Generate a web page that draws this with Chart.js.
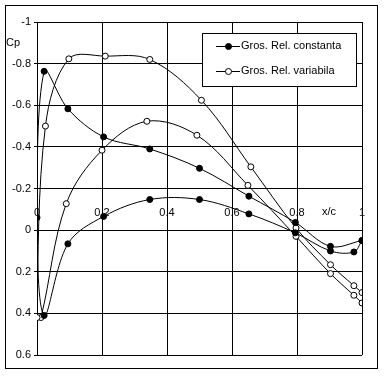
<!doctype html>
<html lang="en">
<head>
<meta charset="utf-8">
<title>Cp distribution</title>
<script src="https://cdn.jsdelivr.net/npm/chart.js"></script>
<style>
  html,body{margin:0;padding:0;background:#fff;}
  #wrap{width:386px;height:376px;}
</style>
</head>
<body>
<div id="wrap"><canvas id="chart" width="386" height="376"></canvas></div>
<script>
/* ─── data (ordered round the profile: lower TE -> LE -> upper TE) ─── */
const X_CONST  = [1, 0.975, 0.903, 0.795, 0.652, 0.5, 0.347, 0.205, 0.095, 0.022, 0, 0.022, 0.095, 0.205, 0.347, 0.5, 0.652, 0.795, 0.903, 1];
const CP_CONST = [0.05, 0.105, 0.10, 0.013, -0.078, -0.147, -0.147, -0.066, 0.066, 0.41, -0.06, -0.763, -0.583, -0.448, -0.39, -0.297, -0.163, -0.037, 0.078, 0.05];

const X_VAR  = [1, 0.975, 0.903, 0.797, 0.649, 0.492, 0.338, 0.2, 0.09, 0.012, 0, 0.026, 0.098, 0.21, 0.347, 0.506, 0.658, 0.797, 0.903, 0.975, 1];
const CP_VAR = [0.35, 0.313, 0.209, 0.03, -0.215, -0.456, -0.523, -0.384, -0.127, 0.42, 0.42, -0.50, -0.823, -0.836, -0.82, -0.624, -0.304, -0.01, 0.166, 0.267, 0.30];

const SERIES_NAMES = ['Gros. Rel. constanta', 'Gros. Rel. variabila'];
const X_TITLE = 'x/c';
const Y_TITLE = 'Cp';

const FONT = "'Liberation Sans', Arial, sans-serif";
const pts = (xs, ys) => xs.map((x, i) => ({x, y: ys[i]}));
const fmt = v => String(Math.round(v * 10) / 10);

/* outer frame, axis titles, boxed legend */
const decorPlugin = {
  id: 'decor',
  beforeDraw({ctx}) {
    ctx.save();
    ctx.fillStyle = '#fff';
    ctx.fillRect(0, 0, 386, 376);
    ctx.strokeStyle = '#000';
    ctx.lineWidth = 1;
    ctx.strokeRect(5.5, 5.5, 372, 363);
    ctx.restore();
  },
  afterDraw(chart) {
    const {ctx} = chart;
    ctx.save();
    ctx.font = '11px ' + FONT;
    ctx.fillStyle = '#000';
    ctx.textBaseline = 'middle';
    ctx.textAlign = 'left';
    ctx.fillText(Y_TITLE, 6, 43);
    ctx.fillText(X_TITLE, 322, 212);

    // legend
    ctx.fillStyle = '#fff';
    ctx.fillRect(202, 33, 154, 53);
    ctx.strokeStyle = '#000';
    ctx.strokeRect(202.5, 33.5, 154, 53);
    chart.data.datasets.forEach((ds, i) => {
      const y = 46 + i * 25;
      ctx.beginPath();
      ctx.moveTo(216, y + 0.5); ctx.lineTo(240, y + 0.5);
      ctx.stroke();
      ctx.beginPath();
      ctx.arc(228.5, y + 0.5, 3, 0, Math.PI * 2);
      ctx.fillStyle = ds.pointBackgroundColor;
      ctx.fill();
      ctx.stroke();
      ctx.fillStyle = '#000';
      ctx.fillText(ds.label, 241, y);
    });
    ctx.restore();
  }
};

Chart.defaults.font.family = FONT;
Chart.defaults.font.size = 11;
Chart.defaults.color = '#000';

new Chart(document.getElementById('chart'), {
  type: 'scatter',
  data: {
    datasets: [
      {
        label: SERIES_NAMES[0], data: pts(X_CONST, CP_CONST),
        showLine: true, tension: 0.35, borderColor: '#000', borderWidth: 1,
        pointRadius: 3, pointBackgroundColor: '#000', pointBorderColor: '#000', pointBorderWidth: 1
      },
      {
        label: SERIES_NAMES[1], data: pts(X_VAR, CP_VAR),
        showLine: true, tension: 0.35, borderColor: '#000', borderWidth: 1,
        pointRadius: 3, pointBackgroundColor: '#fff', pointBorderColor: '#000', pointBorderWidth: 1
      }
    ]
  },
  options: {
    responsive: false,
    animation: false,
    layout: {padding: {left: 5, top: 22, right: 24, bottom: 21}},
    plugins: {legend: {display: false}, tooltip: {enabled: false}},
    scales: {
      x: {
        type: 'linear', min: 0, max: 1,
        position: {y: 0},
        ticks: {stepSize: 0.2, padding: -24, maxRotation: 0, callback: fmt},
        grid: {color: '#000', lineWidth: 1, drawTicks: false},
        border: {color: '#000'}
      },
      y: {
        type: 'linear', min: -1, max: 0.6, reverse: true,
        position: 'left',
        afterFit: s => { s.width = 32; },
        ticks: {stepSize: 0.2, padding: 3, callback: fmt},
        grid: {color: '#000', lineWidth: 1, tickLength: 3},
        border: {color: '#000'}
      }
    }
  },
  plugins: [decorPlugin]
});
</script>
</body>
</html>
